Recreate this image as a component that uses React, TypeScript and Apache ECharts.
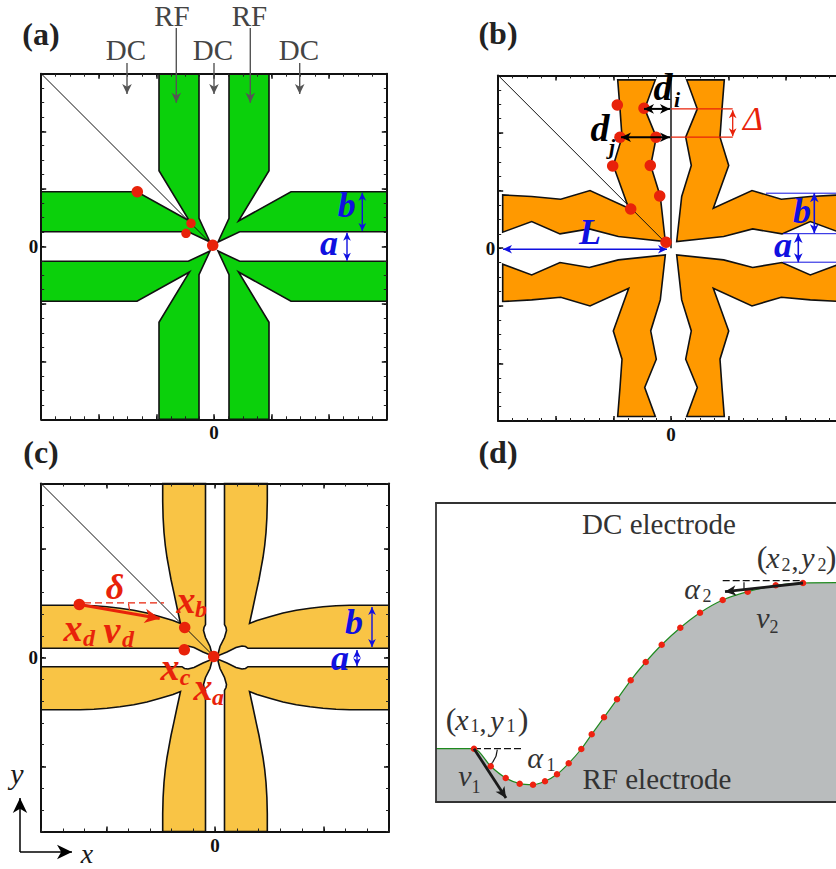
import React, { useEffect, useRef } from "react";
import * as echarts from "echarts";

type P = [number, number];
type Seg = [number, number, number, number];

// Panel (a): top-left electrode, pixels from the trap centre
const quadrantA: P[] = [[-55, 172.8], [-15, 172.8], [-15, 28.2], [-4, 4.5], [-25.7, 14.8], [-172.8, 14.8], [-172.8, 54.8], [-77, 54.8], [-24.5, 25.5], [-55, 75.8]];
const dotsALarge: P[] = [[-76.7, 54.8], [-1.3, 1.2]];
const dotsASmall: P[] = [[-23, 23.2], [-28, 13.2]];
const grayArrowsA: Seg[] = [[-87, 183.5, -87, 152.5], [-37.7, 218.5, -37.7, 143.8], [0, 183.5, 0, 152.5], [36.3, 218.5, 36.3, 143.8], [85.7, 183.5, 85.7, 152.5]];
const blueArrowsA: Seg[] = [[148.3, 53.8, 148.3, 15.5], [133, 13.8, 133, -14.2]];
const diagonalA: Seg[] = [[-172.8, 172.8, -1, 1]];

// Panel (b)
const quadrantB: P[] = [[-53.3, 168.3], [-15.7, 168.3], [-26.3, 139.3], [-14.7, 111], [-20.3, 82.7], [-10.7, 51.7], [-5.7, 6.7], [-52.7, 11.7], [-81.7, 19.3], [-111, 14.3], [-139.3, 26.7], [-168.3, 16], [-168.3, 53.3], [-139.3, 51.7], [-110.3, 49], [-81, 57.7], [-42.3, 40], [-57.7, 82.7], [-49, 111], [-51, 139.3]];
const dotsB: P[] = [[-53.7, 143.3], [-27, 140], [-51, 111], [-15, 111], [-58.3, 82.3], [-20.7, 82.7], [-11.3, 52.3], [-40.3, 39.3], [-5, 6]];
const diagonalB: Seg[] = [[-172.8, 172.8, -4, 4]];
const axisLineB: Seg[] = [[0, 175, 0, 0]];
const blueArrowsB: Seg[] = [[-168, -1, -4, -1], [127.3, 14.3, 127.3, -14], [143.3, 55, 143.3, 15]];
const blueLinesB: Seg[] = [[95, 55, 190, 55], [112, 14.5, 190, 14.5], [112, -14, 190, -14]];
const blackArrowsB: Seg[] = [[-27, 139.3, -1, 139.3], [-50, 111, -1, 111]];
const redLinesB: Seg[] = [[0, 139.3, 61.7, 139.3], [0, 111, 61.7, 111]];
const redArrowsB: Seg[] = [[61.7, 138, 61.7, 112]];

// Panel (c)
const quadrantC: P[] = [[-52.3, 174], [-52.3, 156], [-51.9, 140], [-51, 125], [-49.7, 112], [-48, 100], [-46.3, 90.7], [-44, 78], [-41.3, 65.7], [-38, 50], [-34.5, 34], [-42, 37], [-54.7, 40.7], [-68, 44.5], [-81.3, 47.3], [-95, 49.3], [-108, 50.7], [-121, 51.7], [-134.7, 52.3], [-174, 52.3], [-174, 9.2], [-33, 9.2], [-30.5, 11], [-27, 11.5], [-21, 10], [-12, 5.5], [-2.5, 1.5], [-5, 11], [-9.5, 20], [-11.5, 27], [-11, 30], [-9.5, 33], [-9.5, 174]];
const dotsC: P[] = [[-135.7, 53], [-30.3, 30], [-30.7, 7.7], [-1.3, 1]];
const diagonalC: Seg[] = [[-174, 174, -1, 1]];
const redArrowC: Seg[] = [[-135.7, 53, -55.3, 39]];
const redDashC: Seg[] = [[-131, 54.7, -51, 54.7]];
const redArcC: Seg[] = [[-86.5, 54, -85.5, 47.5]];
const blueArrowsC: Seg[] = [[157, 50.5, 157, 10.5], [142, 7.5, 142, -8.5]];
const compassC: Seg[] = [[-195, -194.5, -195, -140.5], [-195, -194.5, -143, -194.5]];

// Panel (d)
const curveDots: P[] = [[38, 53.3], [54.7, 35.7], [69.7, 24], [83.7, 18.3], [97, 17.3], [109, 20.7], [121, 27.7], [132.7, 38.7], [145.3, 53], [155.7, 67.7], [168, 84.7], [181, 102.7], [194.7, 121.7], [209.7, 140], [225.7, 157.3], [244.3, 174.3], [264, 189.3], [286.7, 202], [311.7, 210.3], [339.7, 216.7], [367, 219]];
const curveLeft: P[] = [[0, 53.3]];
const curveRight: P[] = [[420, 219.3]];
const dashD: Seg[] = [[38, 53.3, 88, 53.3], [286.7, 221.3, 367, 221.3]];
const arrowsD: Seg[] = [[38, 53.3, 70, 4], [367, 219, 289, 210.3]];
const thinD: Seg[] = [[61.3, 52.3, 60, 45.7], [60, 45.7, 56.7, 39.7], [56.7, 39.7, 52.3, 35], [308, 219.7, 308, 212.3]];

const SERIF = "Liberation Serif";
const INK = "#1a1a1a";
const RED = "#e8220a";
const BLUE = "#1010e0";

type Tx = [string, number, number, number, string, string?, string?];
// text, x, y, size, colour, style, weight
const labels: Tx[] = [
  ["(a)", 41, 34, 32, "#222", "normal", "bold"],
  ["(b)", 498, 33, 32, "#222", "normal", "bold"],
  ["(c)", 41, 452, 32, "#222", "normal", "bold"],
  ["(d)", 498, 452, 32, "#222", "normal", "bold"],
  ["RF", 172, 16, 29, "#444"], ["RF", 249.5, 16, 29, "#444"],
  ["DC", 126, 50, 29, "#444"], ["DC", 213, 50, 29, "#444"], ["DC", 299, 50, 29, "#444"],
  ["b", 346.7, 205, 36, BLUE, "italic", "bold"], ["a", 329, 243, 36, BLUE, "italic", "bold"],
  ["L", 590, 232, 36, BLUE, "italic", "bold"], ["a", 783, 245, 36, BLUE, "italic", "bold"], ["b", 802, 211, 36, BLUE, "italic", "bold"],
  ["d", 663, 87, 38, "#000", "italic", "bold"], ["i", 677, 99, 22, "#000", "italic", "bold"],
  ["d", 600, 128, 38, "#000", "italic", "bold"], ["j", 612, 146, 22, "#000", "italic", "bold"],
  ["Δ", 753, 118, 34, RED, "italic", "normal"],
  ["δ", 115, 587, 36, RED, "italic", "bold"],
  ["x", 186, 600, 38, RED, "italic", "bold"], ["b", 201, 609, 24, RED, "italic", "bold"],
  ["x", 73, 628, 38, RED, "italic", "bold"], ["d", 89, 638, 24, RED, "italic", "bold"],
  ["v", 112, 630, 38, RED, "italic", "bold"], ["d", 128, 639, 24, RED, "italic", "bold"],
  ["x", 170, 667, 38, RED, "italic", "bold"], ["c", 185, 677, 24, RED, "italic", "bold"],
  ["x", 203, 687, 38, RED, "italic", "bold"], ["a", 218, 697, 24, RED, "italic", "bold"],
  ["b", 354, 622, 36, BLUE, "italic", "bold"], ["a", 340, 658, 36, BLUE, "italic", "bold"],
  ["y", 17, 773, 30, INK, "italic"], ["x", 87, 853, 28, INK, "italic"],
  ["DC electrode", 659, 524, 29, "#333"], ["RF electrode", 657, 779, 29, "#333"],
  ["α", 692, 588, 30, "#333", "italic"], ["2", 707, 596, 18, "#333"],
  ["v", 763, 617, 30, "#333", "italic"], ["2", 774, 627, 18, "#333"],
  ["α", 535, 757, 30, "#333", "italic"], ["1", 551, 765, 18, "#333"],
  ["v", 465, 775, 30, "#333", "italic"], ["1", 476, 787, 18, "#333"],
  ["(", 451, 719, 32, "#333"], ["x", 462, 719, 30, "#333", "italic"], ["1", 475, 726, 18, "#333"], [",", 483, 722, 28, "#333"], ["y", 497, 720, 30, "#333", "italic"], ["1", 511, 726, 18, "#333"], [")", 523, 719, 32, "#333"],
  ["(", 762, 557, 32, "#333"], ["x", 773, 557, 30, "#333", "italic"], ["2", 786, 565, 18, "#333"], [",", 795, 560, 28, "#333"], ["y", 808, 557, 30, "#333", "italic"], ["2", 822, 565, 18, "#333"], [")", 831, 557, 32, "#333"],
];

function mirror(poly: P[], sx: number, sy: number): P[] {
  return poly.map(([x, y]) => [x * sx, y * sy] as P);
}

export default function App() {
  const ref = useRef<HTMLDivElement>(null);
  useEffect(() => {
    document.body.style.margin = "0";
    const chart = echarts.init(ref.current!, undefined, { renderer: "svg" });
    const xAxis: any[] = [];
    const yAxis: any[] = [];
    const series: any[] = [];
    const grid: any[] = [];

    const lineOpt = { show: true, onZero: false, lineStyle: { color: "#111", width: 2 } };
    const noLine = { show: false, onZero: false };

    function addPanel(left: number, top: number, half: number, minor: number, majors: number[]) {
      const g = grid.length;
      grid.push({ left, top, width: half * 2, height: half * 2, show: false, outerBoundsMode: "none" });
      const xi = xAxis.length;
      const yi = yAxis.length;
      const base = { type: "value", gridIndex: g, min: -half, max: half, z: 5, splitLine: { show: false } };
      const zeroLabel = (margin: number) => ({ show: true, customValues: [0], margin, fontFamily: SERIF, fontWeight: "bold", fontSize: 19, color: "#111", formatter: () => "0" });
      const off = { show: false };
      (["bottom", "top"] as const).forEach((position, i) => {
        xAxis.push({ ...base, position, interval: minor, axisLine: lineOpt, axisTick: { show: true, inside: true, length: 3, lineStyle: { color: "#222", width: 1 } }, axisLabel: i === 0 ? zeroLabel(4) : off });
        xAxis.push({ ...base, position, interval: minor, axisLine: noLine, axisTick: { show: true, inside: true, length: 5, customValues: majors, lineStyle: { color: "#111", width: 1.5 } }, axisLabel: off });
      });
      (["left", "right"] as const).forEach((position, i) => {
        yAxis.push({ ...base, position, interval: minor, axisLine: lineOpt, axisTick: { show: true, inside: true, length: 3, lineStyle: { color: "#222", width: 1 } }, axisLabel: i === 0 ? zeroLabel(3) : off });
        yAxis.push({ ...base, position, interval: minor, axisLine: noLine, axisTick: { show: true, inside: true, length: 5, customValues: majors, lineStyle: { color: "#111", width: 1.5 } }, axisLabel: off });
      });
      return { xAxisIndex: xi, yAxisIndex: yi };
    }

    function polygon(ref: any, pts: P[], fill: string) {
      series.push({
        type: "custom", ...ref, z: 2, silent: true, data: pts,
        renderItem: (params: any, api: any) => {
          if (params.dataIndex !== 0) return null;
          return {
            type: "polygon",
            shape: { points: pts.map((p) => api.coord(p)) },
            style: { fill, stroke: "#111", lineWidth: 1.6 },
          };
        },
      });
    }

    function segments(ref: any, segs: Seg[], stroke: string, lineWidth: number, lineDash?: number[], z = 3) {
      series.push({
        type: "custom", ...ref, z, silent: true, data: segs,
        renderItem: (_: any, api: any) => {
          const a = api.coord([api.value(0), api.value(1)]);
          const b = api.coord([api.value(2), api.value(3)]);
          return {
            type: "line",
            shape: { x1: a[0], y1: a[1], x2: b[0], y2: b[1] },
            style: { stroke, lineWidth, lineDash, fill: null },
          };
        },
      });
    }

    function head(tip: number[], from: number[], size: number, fill: string) {
      const dx = tip[0] - from[0];
      const dy = tip[1] - from[1];
      const len = Math.hypot(dx, dy) || 1;
      const ux = dx / len, uy = dy / len;
      const w = size * 0.48;
      return {
        type: "polygon",
        shape: {
          points: [
            tip,
            [tip[0] - ux * size - uy * w, tip[1] - uy * size + ux * w],
            [tip[0] - ux * size * 0.72, tip[1] - uy * size * 0.72],
            [tip[0] - ux * size + uy * w, tip[1] - uy * size - ux * w],
          ],
        },
        style: { fill },
      };
    }

    function arrows(ref: any, segs: Seg[], color: string, lineWidth: number, size: number, both: boolean) {
      series.push({
        type: "custom", ...ref, z: 12, silent: true, data: segs,
        renderItem: (_: any, api: any) => {
          const a = api.coord([api.value(0), api.value(1)]);
          const b = api.coord([api.value(2), api.value(3)]);
          const children: any[] = [
            { type: "line", shape: { x1: a[0], y1: a[1], x2: b[0], y2: b[1] }, style: { stroke: color, lineWidth, fill: null } },
            head(b, a, size, color),
          ];
          if (both) children.push(head(a, b, size, color));
          return { type: "group", children };
        },
      });
    }

    function dots(ref: any, pts: P[], size: number, color = RED) {
      series.push({ type: "scatter", ...ref, z: 10, silent: true, data: pts, symbolSize: size, itemStyle: { color, opacity: 1 } });
    }

    function fourWay(ref: any, q: P[], fill: string) {
      polygon(ref, q, fill);
      polygon(ref, mirror(q, -1, 1), fill);
      polygon(ref, mirror(q, 1, -1), fill);
      polygon(ref, mirror(q, -1, -1), fill);
    }

    // (a)
    const a = addPanel(41.2, 73.7, 172.8, 14.4, [-172.8, -115.2, -57.6, 0, 57.6, 115.2, 172.8]);
    fourWay(a, quadrantA, "#0bd00b");
    segments(a, diagonalA, "#111", 1);
    dots(a, dotsALarge, 11.5);
    dots(a, dotsASmall, 9.5);
    arrows(a, grayArrowsA, "#555", 1.4, 10, false);
    arrows(a, blueArrowsA, BLUE, 1.4, 8, true);

    // (b)
    const b = addPanel(498.2, 75.4, 172.8, 14.4, [-172.8, -115.2, -57.6, 0, 57.6, 115.2, 172.8]);
    fourWay(b, quadrantB, "#ff9900");
    segments(b, diagonalB, "#111", 1);
    segments(b, axisLineB, "#222", 1.6);
    segments(b, blueLinesB, BLUE, 1);
    segments(b, redLinesB, RED, 1.2);
    dots(b, dotsB, 11.5);
    arrows(b, blueArrowsB, BLUE, 1.6, 9, true);
    arrows(b, blackArrowsB, "#000", 2, 10, true);
    arrows(b, redArrowsB, RED, 1.3, 8, true);

    // (c)
    const c = addPanel(41, 483.5, 174, 21.75, [-108.75, 0, 108.75]);
    fourWay(c, quadrantC, "#f9c445");
    segments(c, diagonalC, "#111", 1);
    segments(c, redDashC, RED, 1.2, [7, 4]);
    segments(c, redArcC, RED, 1.2);
    dots(c, dotsC, 11.5);
    arrows(c, redArrowC, RED, 3, 15, false);
    arrows(c, blueArrowsC, BLUE, 1.4, 8, true);
    arrows(c, compassC, "#000", 1.5, 15, false);

    // (d)
    const gd = grid.length;
    grid.push({ left: 436, top: 503, width: 420, height: 299, show: false, outerBoundsMode: "none" });
    const dRef = { xAxisIndex: xAxis.length, yAxisIndex: yAxis.length };
    const dBase = { type: "value", gridIndex: gd, z: 5, splitLine: { show: false }, axisTick: { show: false }, axisLabel: { show: false } };
    const dLine = { show: true, onZero: false, lineStyle: { color: "#333", width: 1.8 } };
    xAxis.push({ ...dBase, position: "bottom", min: 0, max: 420, axisLine: dLine });
    xAxis.push({ ...dBase, position: "top", min: 0, max: 420, axisLine: dLine });
    yAxis.push({ ...dBase, position: "left", min: 0, max: 299, axisLine: dLine });
    series.push({
      type: "line", ...dRef, z: 2, silent: true, showSymbol: false, smooth: 0.25,
      data: [...curveLeft, ...curveDots, ...curveRight],
      lineStyle: { color: "#1f8a1f", width: 1.2 },
      areaStyle: { color: "#b9bcbd", opacity: 1, origin: "start" },
    });
    dots(dRef, curveDots, 6.5, "#ee2211");
    segments(dRef, dashD, "#111", 1.3, [7, 3]);
    segments(dRef, thinD, "#111", 1.2);
    arrows(dRef, arrowsD, "#1a1a1a", 2.8, 11, false);

    chart.setOption({
      animation: false,
      backgroundColor: "#fff",
      grid, xAxis, yAxis, series,
      graphic: {
        elements: labels.map(([text, x, y, fontSize, fill, fontStyle, fontWeight]) => ({
          type: "text", x, y, z: 100, silent: true,
          style: { text, fontFamily: SERIF, fontSize, fill, fontStyle: fontStyle || "normal", fontWeight: fontWeight || "normal", textAlign: "center", textVerticalAlign: "middle" },
        })),
      },
    });
    return () => chart.dispose();
  }, []);
  return <div ref={ref} style={{ position: "absolute", left: 0, top: 0, width: 836, height: 869 }} />;
}
